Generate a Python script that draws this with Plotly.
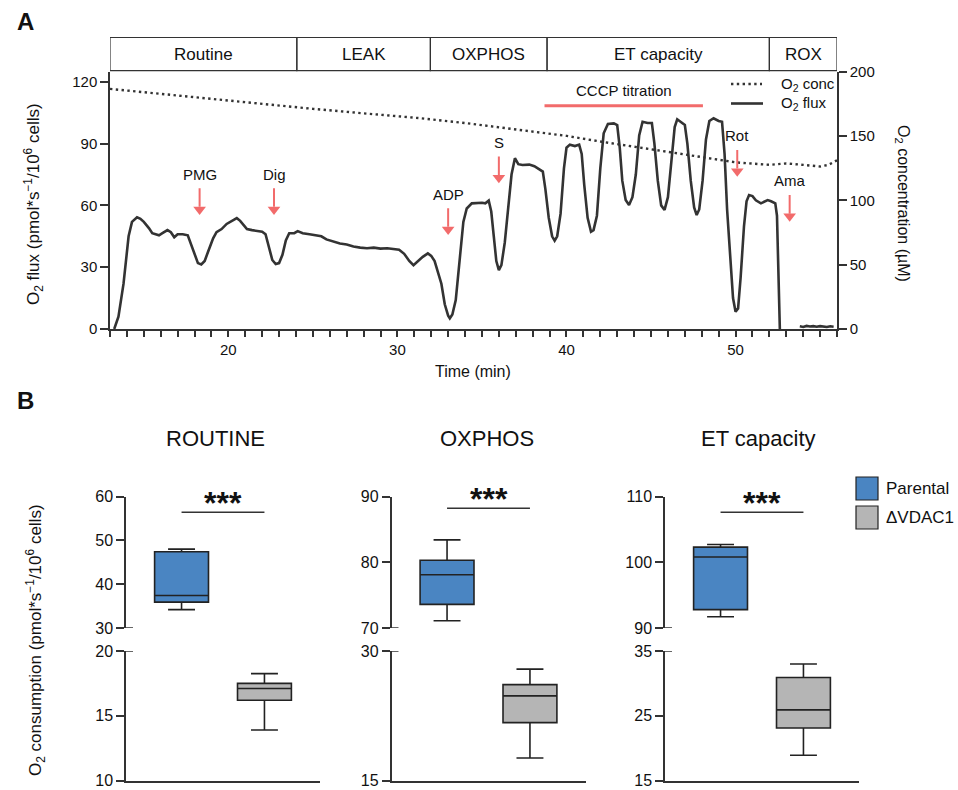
import plotly.graph_objects as go

W, H = 958, 790
FONT = "Liberation Sans, Arial, sans-serif"
INK = "#333333"
TXT = "#111111"
RED = "#F26B6B"
BLUE = "#4A85C2"
GREY = "#B5B5B5"


def px(x):
    return x / W


def py(y):
    return 1 - y / H


def label(x, y, text, size, xanchor="center", angle=0):
    """Text placed in pixel coordinates of the page."""
    return dict(x=px(x), y=py(y), xref="paper", yref="paper", text=text,
                xanchor=xanchor, yanchor="middle", textangle=angle,
                showarrow=False, font=dict(size=size, color=TXT))


# ---------------- Panel A: high-resolution respirometry trace ----------------
time_flux = [13.25, 13.5, 13.8, 14.1, 14.3, 14.6, 14.8, 15.0, 15.3, 15.5, 15.7, 15.9,
             16.1, 16.4, 16.6, 16.8, 17.0, 17.3, 17.6, 17.8, 18.0, 18.2, 18.4, 18.6,
             18.8, 19.1, 19.3, 19.6, 19.9, 20.2, 20.5, 20.7, 20.9, 21.1, 21.4, 21.7,
             22.0, 22.2, 22.4, 22.6, 22.8, 23.0, 23.2, 23.4, 23.6, 23.9, 24.1, 24.4,
             24.8, 25.2, 25.5, 25.8, 26.2, 26.6, 27.0, 27.4, 27.8, 28.2, 28.6, 29.0,
             29.4, 29.8, 30.1, 30.4, 30.7, 30.95, 31.2, 31.5, 31.8, 32.0, 32.2, 32.4,
             32.6, 32.8, 33.0, 33.1, 33.25, 33.45, 33.7, 33.9, 34.1, 34.4, 35.0, 35.2,
             35.4, 35.55, 35.7, 35.85, 36.0, 36.15, 36.35, 36.55, 36.75, 36.95, 37.15,
             37.4, 37.8, 38.1, 38.4, 38.6, 38.75, 38.95, 39.15, 39.3, 39.45, 39.65,
             39.85, 40.0, 40.2, 40.5, 40.75, 40.9, 41.05, 41.25, 41.45, 41.6, 41.8,
             42.0, 42.2, 42.45, 42.8, 43.0, 43.15, 43.3, 43.5, 43.7, 43.9, 44.1, 44.3,
             44.5, 44.8, 45.05, 45.2, 45.4, 45.6, 45.8, 46.0, 46.2, 46.4, 46.55, 46.8,
             47.0, 47.15, 47.35, 47.55, 47.7, 47.85, 48.05, 48.25, 48.45, 48.7, 49.0,
             49.2, 49.35, 49.5, 49.7, 49.85, 50.0, 50.15, 50.3, 50.5, 50.65, 50.8,
             51.0, 51.2, 51.5, 51.7, 51.9, 52.1, 52.35, 52.45, 52.55, 52.62]
o2_flux = [0, 6, 22, 45, 52, 54.2, 53.5, 52, 49, 46.5, 46, 45.5,
           46.5, 48, 47, 44.5, 46, 46, 45.5, 41, 36, 32, 31.3, 33,
           37.5, 44, 47, 48.5, 51, 52.5, 53.8, 52.5, 50.5, 48.5, 48, 47.5,
           47.2, 46, 40, 33.5, 31.5, 32, 36, 43, 46.5, 46.5, 47.5, 46.5,
           46, 45.5, 45, 43.5, 42.5, 41.5, 41, 40, 39.5, 39.2, 39.5, 39,
           39.2, 38.8, 38.5, 36.5, 33, 31, 33, 35, 36.7, 35.5, 33, 28,
           22, 12, 6.5, 5.2, 7, 14, 36, 52, 58.5, 61, 61.3, 61,
           62.3, 57, 45, 33, 28.6, 31, 42, 60, 75, 82.9, 80,
           79.6, 79.8, 79, 77.5, 76.4, 68, 54, 45, 42.9, 45, 56,
           78, 88, 89.5, 88.8, 89.5, 85, 70, 54, 47.2, 48, 55,
           78, 95, 99.5, 99.8, 99, 88, 72, 62.6, 60.2, 64, 75, 94,
           100.6, 100, 100, 90, 72, 60, 57.8, 64, 82, 98, 101.8, 100,
           99, 90, 72, 59, 55.3, 58, 72, 92, 101, 102.3, 101,
           100.6, 85, 58, 30, 15, 8.4, 10, 25, 50, 62, 65,
           64.5, 62.5, 61, 62, 62.6, 62, 61, 55, 25, 0]

# residual oxygen consumption after antimycin A
time_rox = [53.8, 54.0, 54.2, 54.4, 54.6, 54.8, 55.0, 55.2, 55.4, 55.6, 55.8]
flux_rox = [1.3, 1.0, 1.5, 1.2, 1.4, 1.1, 1.4, 1.2, 1.0, 1.3, 1.1]

time_conc = [13, 16, 20, 25, 28, 31.3, 34, 37.3, 40, 42, 44, 47.1, 49, 50.1,
             52, 53, 54, 55, 55.5, 56]
o2_conc = [186.5, 182.5, 177.5, 171, 167.5, 163.8, 160, 154.7, 150, 145.6,
           141.5, 135.2, 131, 129.3, 127.5, 128.6, 127.5, 126.2, 127.5, 131]

phase_names = ["Routine", "LEAK", "OXPHOS", "ET capacity", "ROX"]
phase_edges = [13, 24.05, 31.95, 38.85, 52.0, 56]

injection_names = ["PMG", "Dig", "ADP", "S", "Rot", "Ama"]
injection_time = [18.3, 22.7, 33.0, 36.0, 50.1, 53.2]
injection_level = [55.3, 55.3, 45.6, 70.7, 73.9, 52.0]

cccp_start, cccp_end, cccp_level = 38.7, 48.07, 108.4

x_major = [20, 30, 40, 50]

# ---------------- Panel B: O2 consumption per respiratory state ----------------
# stats order: lower whisker, Q1, median, Q3, upper whisker
routine_parental = [34.2, 35.9, 37.4, 47.4, 48.0]
routine_vdac1 = [13.9, 16.2, 17.1, 17.5, 18.25]
oxphos_parental = [71.1, 73.6, 78.1, 80.3, 83.4]
oxphos_vdac1 = [17.6, 21.7, 24.8, 26.1, 27.9]
et_parental = [91.7, 92.8, 100.8, 102.3, 102.7]
et_vdac1 = [18.9, 23.1, 25.9, 30.9, 33.0]

state_titles = ["ROUTINE", "OXPHOS", "ET capacity"]
upper_ranges = [[30, 60], [70, 90], [90, 110]]
upper_ticks = [[30, 40, 50, 60], [70, 80, 90], [90, 100, 110]]
lower_ranges = [[10, 20], [15, 30], [15, 35]]
lower_ticks = [[10, 15, 20], [15, 30], [15, 25, 35]]
signif_level = [56.4, 88.2, 107.6]
signif_text = ["***", "***", "***"]
group_names = ["Parental", "ΔVDAC1"]

fig = go.Figure()

# flux and concentration traces
fig.add_trace(go.Scatter(x=time_flux, y=o2_flux, mode="lines",
                         line=dict(color=INK, width=2.6), xaxis="x", yaxis="y"))
fig.add_trace(go.Scatter(x=time_rox, y=flux_rox, mode="lines",
                         line=dict(color=INK, width=2.6), xaxis="x", yaxis="y"))
fig.add_trace(go.Scatter(x=time_conc, y=o2_conc, mode="lines",
                         line=dict(color=INK, width=2.4, dash="2.4px,3.4px"),
                         xaxis="x", yaxis="y2"))

shapes = []
annotations = []

# phase header boxes
for name, a, b in zip(phase_names, phase_edges[:-1], phase_edges[1:]):
    shapes.append(dict(type="rect", xref="x", yref="paper", x0=a, x1=b,
                       y0=py(70.7), y1=py(37.5), line=dict(color=INK, width=1.2)))
    annotations.append(dict(x=(a + b) / 2, xref="x", y=py(54), yref="paper",
                            yanchor="middle", xanchor="center",
                            text=name, showarrow=False, font=dict(size=17, color=TXT)))

# injection arrows: shaft + triangular head, with label above
head_lift = 2.7     # flux units between tip and marker centre
for name, t, lvl in zip(injection_names, injection_time, injection_level):
    shapes.append(dict(type="line", xref="x", yref="y", x0=t, x1=t,
                       y0=lvl + 4, y1=lvl + 13, line=dict(color=RED, width=2)))
    annotations.append(dict(x=t, y=lvl, xref="x", yref="y", text=name, yshift=41,
                            xanchor="center", yanchor="middle",
                            showarrow=False, font=dict(size=15, color=TXT)))
fig.add_trace(go.Scatter(x=injection_time, y=[v + head_lift for v in injection_level],
                         mode="markers", xaxis="x", yaxis="y",
                         marker=dict(symbol="triangle-down", size=11, color=RED,
                                     line=dict(width=0))))

# CCCP titration bar
shapes.append(dict(type="line", xref="x", yref="y", x0=cccp_start, x1=cccp_end,
                   y0=cccp_level, y1=cccp_level, line=dict(color=RED, width=3)))
annotations.append(dict(x=(cccp_start + cccp_end) / 2, y=cccp_level, xref="x",
                        yref="y", text="CCCP titration", yshift=15, showarrow=False,
                        xanchor="center", yanchor="middle",
                        font=dict(size=15, color=TXT)))

# panel A legend
shapes.append(dict(type="line", xref="paper", yref="paper", x0=px(731), x1=px(762),
                   y0=py(84), y1=py(84),
                   line=dict(color=INK, width=2.4, dash="2.4px,3.4px")))
shapes.append(dict(type="line", xref="paper", yref="paper", x0=px(731), x1=px(763),
                   y0=py(103.5), y1=py(103.5), line=dict(color=INK, width=2.6)))
annotations.append(label(779, 84, "O<sub>2</sub> conc", 15, "left"))
annotations.append(label(779, 103.5, "O<sub>2</sub> flux", 15, "left"))

# panel A axis titles and panel letters
annotations.append(label(33, 204, "O<sub>2</sub> flux (pmol*s<sup>−1</sup>/10<sup>6</sup> cells)",
                         17, angle=-90))
annotations.append(label(903, 203, "O<sub>2</sub> concentration (µM)", 16, angle=90))
annotations.append(label(473, 371, "Time (min)", 16))
annotations.append(label(25, 21, "<b>A</b>", 24))
annotations.append(label(25, 400, "<b>B</b>", 24))

axis_common = dict(showgrid=False, zeroline=False, showline=True, linecolor=INK,
                   linewidth=1.5, tickcolor=INK, tickwidth=1.5, automargin=False,
                   fixedrange=True, ticklabeloverflow="allow")

layout = dict(
    width=W, height=H, margin=dict(l=0, r=0, t=0, b=0),
    paper_bgcolor="white", plot_bgcolor="rgba(0,0,0,0)",
    font=dict(family=FONT, color=TXT), showlegend=False, boxmode="overlay",
    xaxis=dict(domain=[px(110), px(837)], range=[13, 56], anchor="y",
               tickvals=x_major, ticks="outside", ticklen=6,
               minor=dict(dtick=1, tick0=13, ticks="outside", ticklen=6,
                          tickwidth=1.5, tickcolor=INK),
               tickfont=dict(size=15, color=TXT), **axis_common),
    yaxis=dict(domain=[py(329), py(71.5)], range=[0, 125], anchor="x",
               tickvals=[0, 30, 60, 90, 120], ticks="outside", ticklen=8,
               tickfont=dict(size=15, color=TXT), **axis_common),
    yaxis2=dict(range=[0, 200], overlaying="y", side="right", anchor="x",
                tickvals=[0, 50, 100, 150, 200], ticks="outside", ticklen=8,
                tickfont=dict(size=15, color=TXT), **axis_common),
)

# panel B: broken-axis box plots
panel_left = [126, 391.5, 665]
panel_width = 194
title_x = [215, 487, 758]
group_data = [(routine_parental, routine_vdac1), (oxphos_parental, oxphos_vdac1),
              (et_parental, et_vdac1)]

for i in range(3):
    xa = f"x{i + 2}"
    yu = f"y{2 * i + 3}"
    yl = f"y{2 * i + 4}"
    x0 = panel_left[i]
    layout[f"xaxis{i + 2}"] = dict(domain=[px(x0), px(x0 + panel_width)], anchor=yl,
                                   range=[-0.67, 1.67], showticklabels=False, ticks="",
                                   **axis_common)
    layout[f"yaxis{2 * i + 3}"] = dict(domain=[py(628), py(496.5)], anchor=xa,
                                       range=upper_ranges[i], tickvals=upper_ticks[i],
                                       ticks="outside", ticklen=8,
                                       tickfont=dict(size=16, color=TXT), **axis_common)
    layout[f"yaxis{2 * i + 4}"] = dict(domain=[py(780.5), py(651)], anchor=xa,
                                       range=lower_ranges[i], tickvals=lower_ticks[i],
                                       ticks="outside", ticklen=8,
                                       tickfont=dict(size=16, color=TXT), **axis_common)

    par, vd = group_data[i]
    for pos, stats, color, yax in [(0, par, BLUE, yu), (1, vd, GREY, yl)]:
        fig.add_trace(go.Box(x=[pos], lowerfence=[stats[0]], q1=[stats[1]],
                             median=[stats[2]], q3=[stats[3]], upperfence=[stats[4]],
                             width=0.65, whiskerwidth=0.5, fillcolor=color,
                             line=dict(color="#222", width=1.6), boxpoints=False,
                             xaxis=xa, yaxis=yax))

    # axis break marks
    shapes.append(dict(type="line", xref="paper", yref=yu, x0=px(x0), x1=px(x0 + 7),
                       y0=upper_ranges[i][0], y1=upper_ranges[i][0],
                       line=dict(color=INK, width=1.5)))
    shapes.append(dict(type="line", xref="paper", yref=yl, x0=px(x0), x1=px(x0 + 7),
                       y0=lower_ranges[i][1], y1=lower_ranges[i][1],
                       line=dict(color=INK, width=1.5)))

    # significance bar
    shapes.append(dict(type="line", xref=xa, yref=yu, x0=0, x1=1,
                       y0=signif_level[i], y1=signif_level[i],
                       line=dict(color=INK, width=1.5)))
    annotations.append(dict(x=0.5, xref=xa, y=signif_level[i], yref=yu,
                            text=f"<b>{signif_text[i]}</b>", yshift=9, showarrow=False,
                            xanchor="center", yanchor="middle",
                            font=dict(size=32, color=TXT)))
    annotations.append(label(title_x[i], 439, state_titles[i], 22))

annotations.append(label(35, 640,
                         "O<sub>2</sub> consumption (pmol*s<sup>−1</sup>/10<sup>6</sup> cells)",
                         17, angle=-90))

# panel B legend
for name, color, yc in zip(group_names, [BLUE, GREY], [488.5, 517.5]):
    shapes.append(dict(type="rect", xref="paper", yref="paper", x0=px(856), x1=px(878),
                       y0=py(yc + 11.5), y1=py(yc - 11.5), fillcolor=color,
                       line=dict(color="#222", width=1.2)))
    annotations.append(label(884, yc, name, 17, "left"))

layout["shapes"] = shapes
layout["annotations"] = annotations
fig.update_layout(**layout)

fig.write_html("out.html")
